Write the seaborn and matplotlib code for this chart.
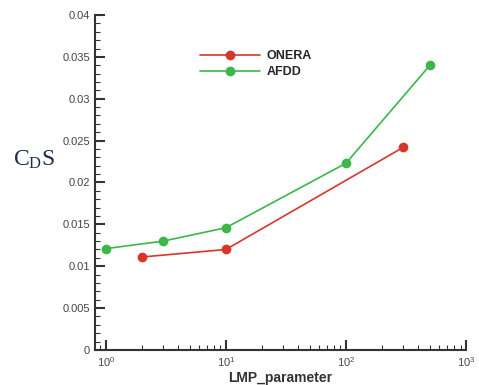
import matplotlib
matplotlib.use("Agg")
import matplotlib.pyplot as plt
import seaborn as sns
import pandas as pd
import numpy as np
from matplotlib.ticker import MultipleLocator, LogLocator, NullFormatter
from matplotlib.lines import Line2D

onera_x = [2, 10, 300]
onera_y = [0.0111, 0.0120, 0.0242]
afdd_x = [1, 3, 10, 100, 500]
afdd_y = [0.0121, 0.0130, 0.0146, 0.0223, 0.0340]
series_names = ["ONERA", "AFDD"]
colors = ["#d9352b", "#3cb64a"]

df = pd.concat([
    pd.DataFrame({"x": onera_x, "y": onera_y, "src": series_names[0]}),
    pd.DataFrame({"x": afdd_x, "y": afdd_y, "src": series_names[1]}),
])

sns.set_style("white")
plt.rcParams['font.family'] = ['Liberation Sans', 'DejaVu Sans']
plt.rcParams['mathtext.fontset'] = 'custom'
plt.rcParams['mathtext.rm'] = 'Liberation Serif'

fig = plt.figure(figsize=(4.79, 3.85), dpi=100)
ax = fig.add_axes([0.198, 0.091, 0.775, 0.870])

sns.lineplot(data=df, x="x", y="y", hue="src", palette=dict(zip(series_names, colors)),
             marker="o", markersize=7, markeredgewidth=0, linewidth=1.2, ax=ax,
             legend=False, sort=False)

ax.set_xscale("log")
ax.set_xlim(0.81, 1000)
ax.set_ylim(0, 0.04)
ax.yaxis.set_minor_locator(MultipleLocator(0.001))
ax.set_yticks(np.arange(0, 0.0401, 0.005))
ax.set_yticklabels(["0", "0.005", "0.01", "0.015", "0.02", "0.025", "0.03", "0.035", "0.04"])
ax.xaxis.set_major_locator(LogLocator(base=10, numticks=10))
ax.xaxis.set_minor_locator(LogLocator(base=10, subs=np.arange(2, 10), numticks=20))
ax.xaxis.set_minor_formatter(NullFormatter())

for s in ["top", "right"]:
    ax.spines[s].set_visible(False)
for s in ["left", "bottom"]:
    ax.spines[s].set_color("#333333")
    ax.spines[s].set_linewidth(1.5)

ax.tick_params(axis="both", which="major", direction="in", length=7, width=1.5,
               color="#333333", labelsize=8, labelcolor="#444444")
ax.tick_params(axis="both", which="minor", direction="in", length=3.5, width=0.8,
               color="#333333")
ax.tick_params(axis="x", which="both", bottom=True)
ax.tick_params(axis="y", which="both", left=True)

ax.set_xlabel("LMP_parameter", fontsize=10, fontweight="bold", color="#333333", labelpad=2)
ax.set_ylabel("")
fig.text(0.028, 0.585, r"$\mathrm{C_{D}S}$", fontsize=17,
         color="#1f2d4a", va="center", ha="left")

handles = [Line2D([], [], color=c, marker="o", markersize=7, markeredgewidth=0, linewidth=1.2)
           for c in colors]
ax.legend(handles, series_names, loc="upper left", bbox_to_anchor=(0.27, 0.91),
          frameon=False, handlelength=4.8,
          prop={"weight": "bold", "size": 9}, labelspacing=0.3, handletextpad=0.5,
          borderaxespad=0)

fig.savefig("out.png", dpi=100)
